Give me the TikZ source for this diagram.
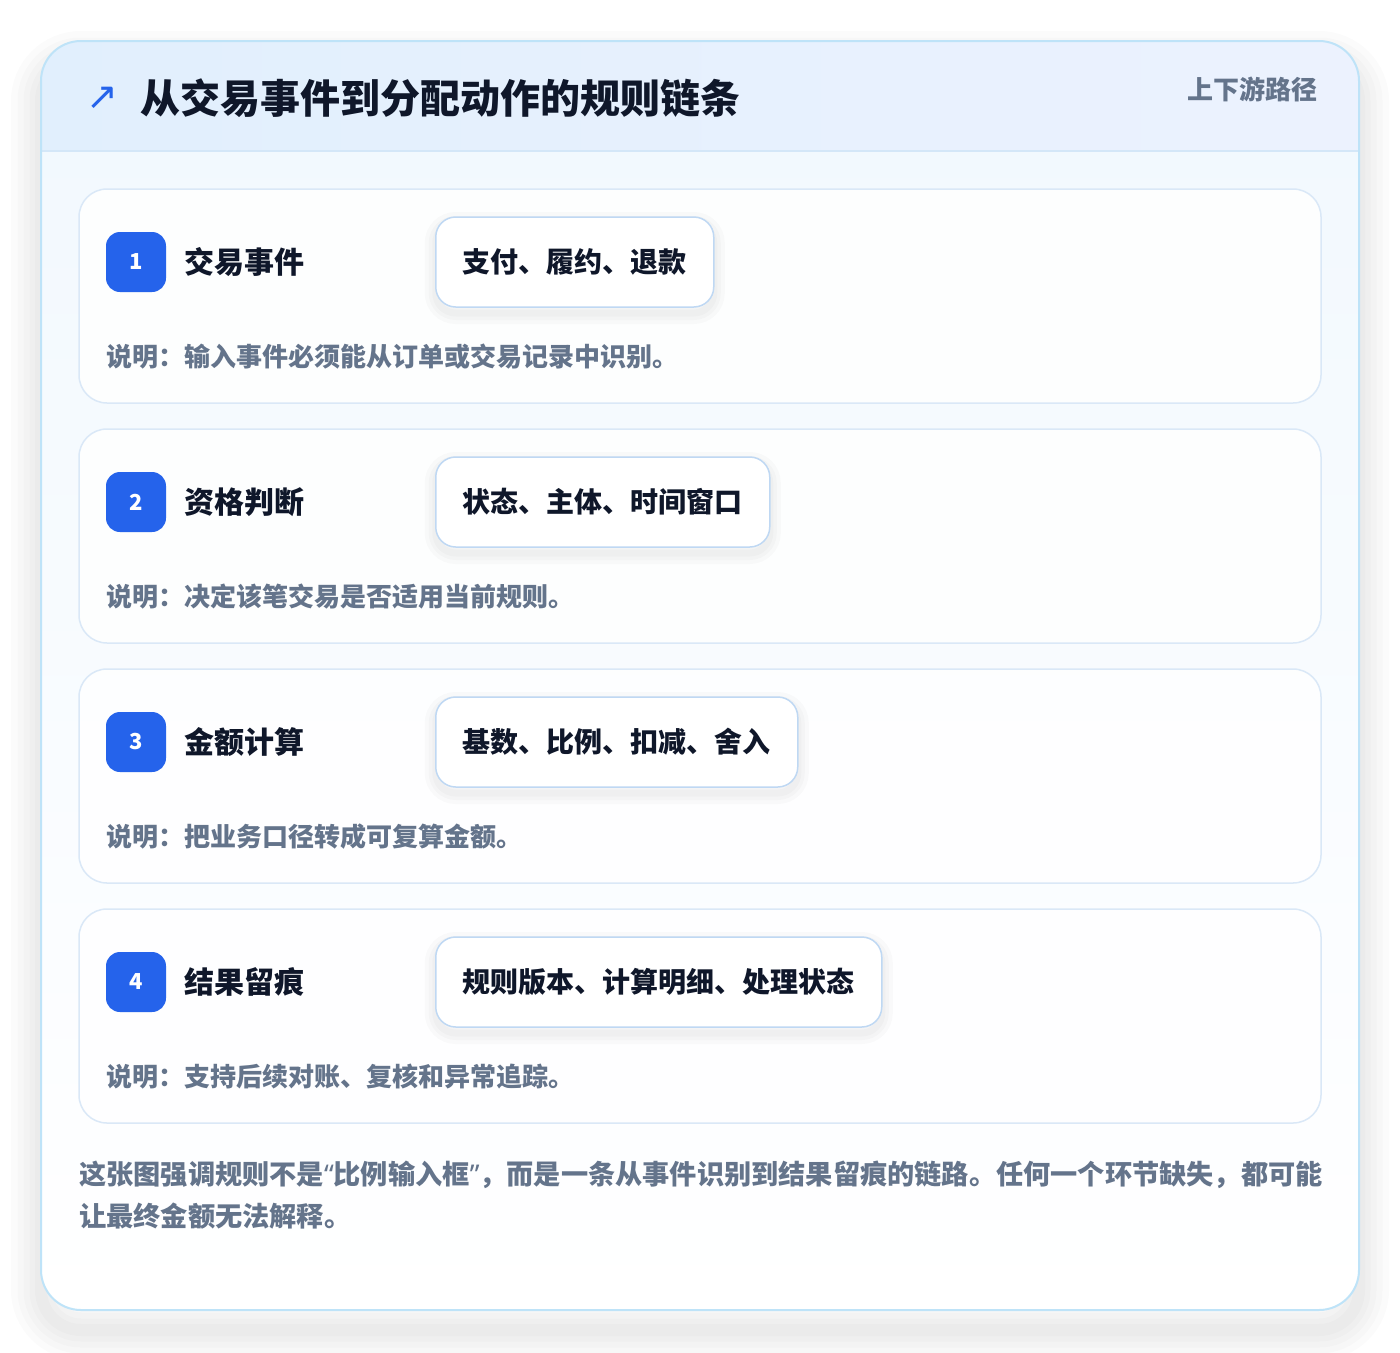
\documentclass[tikz,border=0pt]{standalone}
\usepackage{fontspec}
\setmainfont{Noto Sans CJK SC}
\newfontfamily\symfont{DejaVu Sans}
\newfontfamily\quotefont{Noto Sans}
\usepackage{tikz}
\usetikzlibrary{positioning}
\usepackage{xcolor}
\definecolor{rcblue}{HTML}{2563EB}
\definecolor{rcdark}{HTML}{0F172A}
\definecolor{rcgray}{HTML}{64748B}
\definecolor{rcborder}{HTML}{BEE3F8}
\definecolor{rchead}{HTML}{E1EFFD}
\definecolor{rcheadright}{HTML}{ECF2FE}
\definecolor{rcline}{HTML}{D4E7F8}
\definecolor{rcbodytop}{HTML}{F1F8FE}
\definecolor{rccardline}{HTML}{DAE8F7}
\definecolor{rctagline}{HTML}{BFD8F3}
\tikzstyle{stepcard} = [rectangle, rounded corners=28pt, minimum width=1242pt, minimum height=214pt, draw=rccardline, line width=1.5pt, fill=white, fill opacity=0.85]
\tikzstyle{badge} = [rectangle, rounded corners=14pt, minimum width=60pt, minimum height=60pt, inner sep=0pt, fill=rcblue, text=white, font=\fontsize{22}{26}\selectfont\bfseries]
\tikzstyle{steptitle} = [inner sep=0pt, text=rcdark, font=\fontsize{30}{36}\selectfont\bfseries]
\tikzstyle{tagshadow} = [preaction={draw=black, draw opacity=0.018, line width=22pt, transform canvas={yshift=-6pt}}, preaction={draw=black, draw opacity=0.018, line width=14pt, transform canvas={yshift=-6pt}}, preaction={draw=black, draw opacity=0.018, line width=7pt, transform canvas={yshift=-6pt}}]
\tikzstyle{tagbox} = [rectangle, rounded corners=20pt, minimum height=90pt, inner xsep=27pt, tagshadow, draw=rctagline, line width=1.5pt, fill=white, text=rcdark, font=\fontsize{28}{34}\selectfont\bfseries]
\tikzstyle{stepnote} = [anchor=west, inner sep=0pt, text=rcgray, font=\fontsize{26}{30}\selectfont\bfseries]
\tikzstyle{panelshadow} = [preaction={draw=black, draw opacity=0.014, line width=60pt, transform canvas={yshift=-20pt}}, preaction={draw=black, draw opacity=0.014, line width=47pt, transform canvas={yshift=-20pt}}, preaction={draw=black, draw opacity=0.014, line width=35pt, transform canvas={yshift=-20pt}}, preaction={draw=black, draw opacity=0.014, line width=23pt, transform canvas={yshift=-20pt}}, preaction={draw=black, draw opacity=0.014, line width=12pt, transform canvas={yshift=-20pt}}]

\begin{document}
\begin{tikzpicture}[x=1pt, y=-1pt]
\useasboundingbox (0,0) rectangle (1400,1352);
\fill[white] (0,0) rectangle (1400,1352);
% panel with header band
\path[rounded corners=40pt, panelshadow, top color=rcbodytop, bottom color=white] (41,41) rectangle (1359,1310);
\begin{scope}
\clip[rounded corners=40pt] (41,41) rectangle (1359,1310);
\shade[left color=rchead, right color=rcheadright] (41,41) rectangle (1359,151);
\end{scope}
\draw[rcline, line width=1.5pt] (41,151) -- (1359,151);
\draw[rcborder, line width=2pt, rounded corners=40pt] (41,41) rectangle (1359,1310);
\node (icon) [text=rcblue, font=\symfont\fontsize{38}{38}\selectfont] at (102,98) {↗};
\node (title) [anchor=west, inner sep=0pt, text=rcdark, font=\fontsize{40}{48}\selectfont\bfseries] at (140,98) {从交易事件到分配动作的规则链条};
\node (pathlabel) [anchor=east, inner sep=0pt, text=rcgray, font=\fontsize{26}{30}\selectfont\bfseries] at (1318,89) {上下游路径};
% step 1
\node (card1) [stepcard] at (700,296) {};
\node (badge1) [badge] at (136,262) {1};
\node (title1) [steptitle, right=18pt of badge1] {交易事件};
\node (tag1) [tagbox, anchor=west] at (435,262) {支付、履约、退款};
\node (note1) [stepnote] at (106,357) {说明：输入事件必须能从订单或交易记录中识别。};
% step 2
\node (card2) [stepcard] at (700,536) {};
\node (badge2) [badge] at (136,502) {2};
\node (title2) [steptitle, right=18pt of badge2] {资格判断};
\node (tag2) [tagbox, anchor=west] at (435,502) {状态、主体、时间窗口};
\node (note2) [stepnote] at (106,597) {说明：决定该笔交易是否适用当前规则。};
% step 3
\node (card3) [stepcard] at (700,776) {};
\node (badge3) [badge] at (136,742) {3};
\node (title3) [steptitle, right=18pt of badge3] {金额计算};
\node (tag3) [tagbox, anchor=west] at (435,742) {基数、比例、扣减、舍入};
\node (note3) [stepnote] at (106,837) {说明：把业务口径转成可复算金额。};
% step 4
\node (card4) [stepcard] at (700,1016) {};
\node (badge4) [badge] at (136,982) {4};
\node (title4) [steptitle, right=18pt of badge4] {结果留痕};
\node (tag4) [tagbox, anchor=west] at (435,982) {规则版本、计算明细、处理状态};
\node (note4) [stepnote] at (106,1077) {说明：支持后续对账、复核和异常追踪。};
% summary
\node (summary) [anchor=north west, align=left, inner sep=0pt, text=rcgray, font=\fontsize{27.2}{42}\selectfont\bfseries] at (79,1161) {这张图强调规则不是{\quotefont “}比例输入框{\quotefont ”}，而是一条从事件识别到结果留痕的链路。任何一个环节缺失，都可能\\让最终金额无法解释。};
\end{tikzpicture}
\end{document}
